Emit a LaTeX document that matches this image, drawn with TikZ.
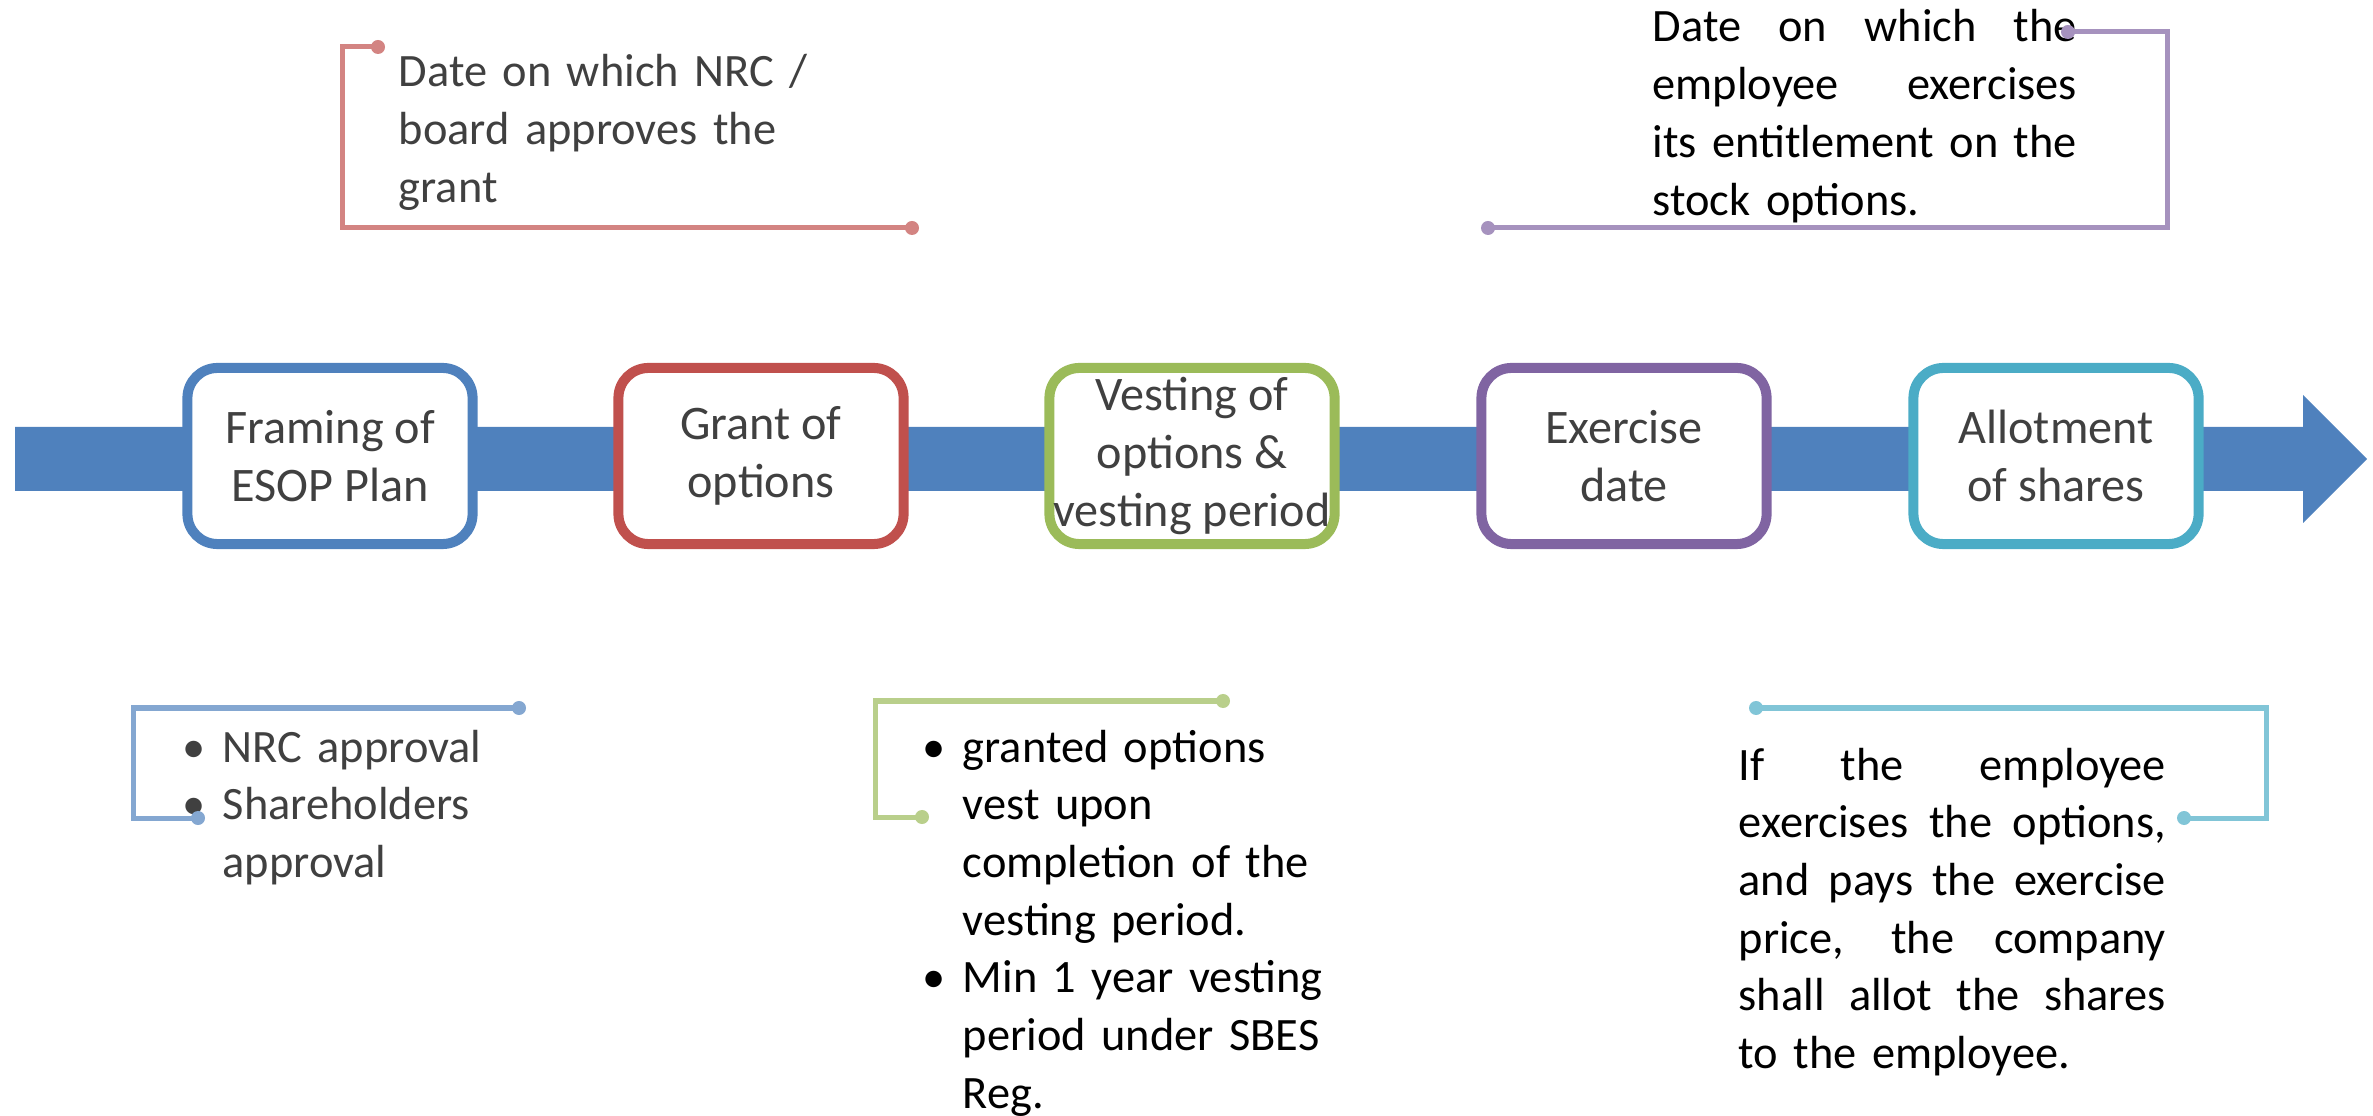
\documentclass[tikz,border=0pt]{standalone}
\usepackage{fontspec}
\setmainfont{Carlito}
\usepackage{tikz}

\definecolor{planblue}{HTML}{4F81BD}
\definecolor{grantred}{HTML}{C0504D}
\definecolor{vestgreen}{HTML}{9BBB59}
\definecolor{exercisepurple}{HTML}{8064A2}
\definecolor{allotaqua}{HTML}{4BACC6}
\definecolor{textgrey}{HTML}{404040}
\newcommand{\jline}[2]{\leavevmode\hbox to #1{\spaceskip=0.25em plus 1fil\relax #2}}
\newcommand{\itembul}{\makebox[0.4cm][l]{\textbullet}}

\begin{document}
\begin{tikzpicture}[x=0.01cm,y=-0.01cm,
    every node/.style={font=\fontsize{13.7pt}{16.4pt}\selectfont},
    stage/.style={draw=#1,line width=0.1cm,rounded corners=0.3cm,fill=white,
      minimum width=2.85cm,minimum height=1.76cm,inner sep=0pt,align=center,text=textgrey},
    note/.style={anchor=base west,inner sep=0pt,text width=#1,align=left,
      font=\fontsize{13.2pt}{16.4pt}\selectfont},
    lead/.style={draw=#1!70,line width=0.05cm},
    pin/.style={fill=#1!70}]
    \useasboundingbox (0,0) rectangle (2373,1116);

    \fill[planblue] (15,427) -- (2303,427) -- (2303,395) -- (2367,459)
        -- (2303,523) -- (2303,491) -- (15,491) -- cycle;

    \node[stage=planblue] (plan) at (330,456) {Framing of\\ESOP Plan};
    \node[stage=grantred] (grant) at (761,456) {Grant of\\options};
    \node[stage=vestgreen] (vest) at (1192,456) {Vesting of\\options \&\\vesting period};
    \node[stage=exercisepurple] (exercise) at (1624,456) {Exercise\\date};
    \node[stage=allotaqua] (allot) at (2056,456) {Allotment\\of shares};

    \node[note=4.6cm,text=textgrey] (grantNote) at (398,87)
        {Date on which NRC /\\board approves the\\grant};
    \node[note=4.26cm] (exerciseNote) at (1652,42)
        {\jline{4.24cm}{Date on which the}\\\jline{4.24cm}{employee exercises}\\\jline{4.24cm}{its entitlement on the}\\stock options.};
    \node[note=3.2cm,text=textgrey] (planNote) at (182,762)
        {\itembul NRC approval\\\itembul Shareholders\\\hspace*{0.4cm}approval};
    \node[note=4.2cm] (vestNote) at (922,762)
        {\itembul granted options\\\hspace*{0.4cm}vest upon\\\hspace*{0.4cm}completion of the\\\hspace*{0.4cm}vesting period.\\\itembul Min 1 year vesting\\\hspace*{0.4cm}period under SBES\\\hspace*{0.4cm}Reg.};
    \node[note=4.3cm] (allotNote) at (1738,780)
        {\jline{4.27cm}{If the employee}\\\jline{4.27cm}{exercises the options,}\\\jline{4.27cm}{and pays the exercise}\\\jline{4.27cm}{price, the company}\\\jline{4.27cm}{shall allot the shares}\\to the employee.};

    \coordinate (grantTop) at (378,47);
    \coordinate (grantEnd) at (912,228);
    \coordinate (exerciseTop) at (2068,32);
    \coordinate (exerciseEnd) at (1488,228);
    \coordinate (planTop) at (519,708);
    \coordinate (planEnd) at (198,818);
    \coordinate (vestTop) at (1223,701);
    \coordinate (vestEnd) at (922,817);
    \coordinate (allotTop) at (1756,708);
    \coordinate (allotEnd) at (2184,818);

    \draw[lead=grantred] (grantTop) -- ++(-36,0) |- (grantEnd);
    \draw[lead=exercisepurple] (exerciseTop) -- ++(99,0) |- (exerciseEnd);
    \draw[lead=planblue] (planTop) -- ++(-386,0) |- (planEnd);
    \draw[lead=vestgreen] (vestTop) -- ++(-348,0) |- (vestEnd);
    \draw[lead=allotaqua] (allotTop) -- ++(510,0) |- (allotEnd);

    \fill[pin=grantred] (grantTop) circle[radius=0.07cm] (grantEnd) circle[radius=0.07cm];
    \fill[pin=exercisepurple] (exerciseTop) circle[radius=0.07cm] (exerciseEnd) circle[radius=0.07cm];
    \fill[pin=planblue] (planTop) circle[radius=0.07cm] (planEnd) circle[radius=0.07cm];
    \fill[pin=vestgreen] (vestTop) circle[radius=0.07cm] (vestEnd) circle[radius=0.07cm];
    \fill[pin=allotaqua] (allotTop) circle[radius=0.07cm] (allotEnd) circle[radius=0.07cm];
\end{tikzpicture}
\end{document}
